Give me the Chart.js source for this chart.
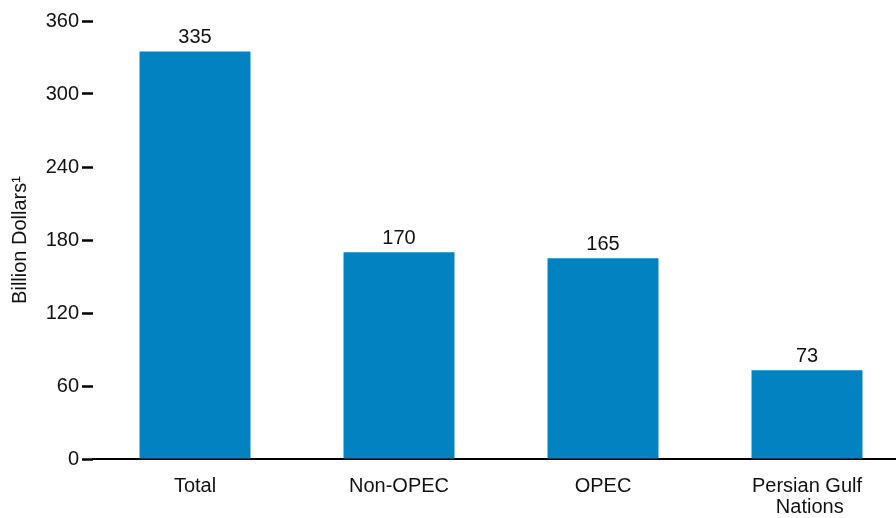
<!DOCTYPE html>
<html>
<head>
<meta charset="utf-8">
<script src="https://cdn.jsdelivr.net/npm/chart.js@4"></script>
<style>
  html, body { margin: 0; padding: 0; background: #fff; overflow: hidden; }
  #wrap { width: 909px; height: 518px; position: relative; }
</style>
</head>
<body>
<div id="wrap"><canvas id="grafico"></canvas></div>
<script>
// datos
const categorias = ['Total', 'Non-OPEC', 'OPEC', ['Persian Gulf', ' Nations']];
const valores = [335, 170, 165, 73];
const ticksY = [0, 60, 120, 180, 240, 300, 360];

const fuente = "'Liberation Sans', Arial, sans-serif";

// etiquetas encima de cada barra
const etiquetasBarras = {
    id: 'etiquetasBarras',
    afterDatasetsDraw(chart) {
        const ctx = chart.ctx;
        const meta = chart.getDatasetMeta(0);
        ctx.save();
        ctx.font = '20px ' + fuente;
        ctx.fillStyle = '#111';
        ctx.textAlign = 'center';
        ctx.textBaseline = 'bottom';
        meta.data.forEach(function(bar, i) {
            ctx.fillText(String(valores[i]), bar.x, bar.y - 4);
        });
        ctx.restore();
    }
};

let ctx = document.getElementById('grafico').getContext('2d');
let chart = new Chart(ctx, {
    type: 'bar',
    data: {
        labels: categorias,
        datasets: [{
            data: valores,
            backgroundColor: '#0282C0',
            barPercentage: 0.544,
            categoryPercentage: 1
        }]
    },
    options: {
        responsive: true,
        maintainAspectRatio: false,
        animation: false,
        layout: { padding: { top: 21, right: 0, left: 0, bottom: 0 } },
        plugins: {
            legend: { display: false },
            tooltip: { enabled: false }
        },
        scales: {
            x: {
                grid: { display: false },
                border: { display: true, color: '#000', width: 2 },
                ticks: {
                    color: '#111',
                    font: { family: fuente, size: 20, lineHeight: 1.05 },
                    padding: 9,
                    maxRotation: 0,
                    autoSkip: false
                },
                afterFit: function(scale) { scale.height = 59; }
            },
            y: {
                min: 0,
                max: 360,
                afterBuildTicks: function(scale) {
                    scale.ticks = ticksY.map(function(v) { return { value: v }; });
                },
                grid: {
                    drawOnChartArea: false,
                    drawTicks: true,
                    tickLength: 11,
                    tickWidth: 2.5,
                    tickColor: '#000'
                },
                border: { display: false },
                ticks: {
                    color: '#111',
                    font: { family: fuente, size: 20 },
                    padding: 3
                },
                title: {
                    display: true,
                    text: 'Billion Dollars¹',
                    color: '#111',
                    font: { family: fuente, size: 20 },
                    padding: { top: 8, bottom: 0 }
                },
                afterFit: function(scale) { scale.width = 93; }
            }
        }
    },
    plugins: [etiquetasBarras]
});
</script>
</body>
</html>
